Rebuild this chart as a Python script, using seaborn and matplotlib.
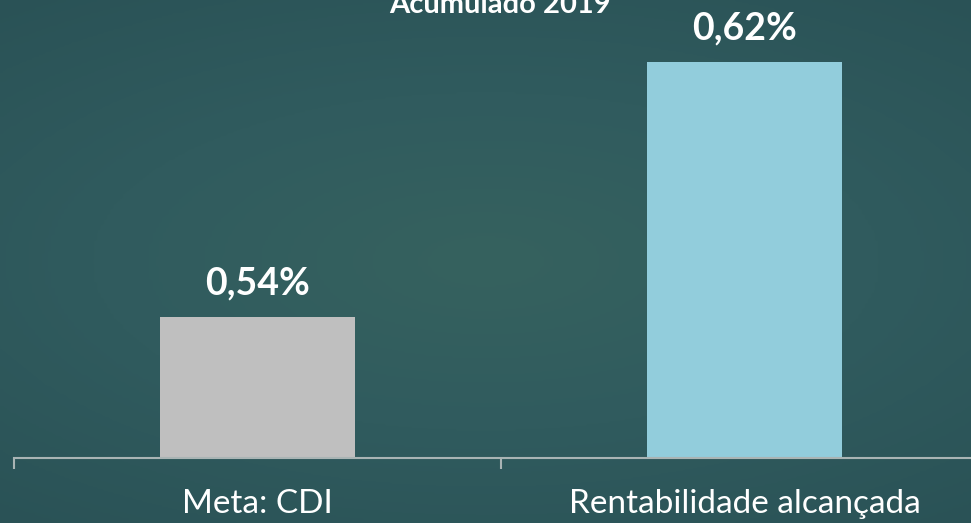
import numpy as np
import pandas as pd
import seaborn as sns
import matplotlib.pyplot as plt

categorias = ["Meta: CDI", "Rentabilidade alcançada"]
valores = [0.54, 0.62]
rotulos = ["0,54%", "0,62%"]
cores = ["#bfbfbf", "#92cddc"]
titulo = "Acumulado 2019"


def main():
    sns.set_style("white")
    plt.rcParams['font.family'] = ['Lato', 'DejaVu Sans']

    df = pd.DataFrame({"categoria": categorias, "valor": valores})

    fig = plt.figure(figsize=(9.71, 5.23), dpi=100)
    fig.patch.set_facecolor("#2f5a5d")

    # chalkboard-ish background: very soft gradient
    bg = fig.add_axes([0, 0, 1, 1])
    yy, xx = np.mgrid[-1:1:200j, -1:1:300j]
    grad = np.sqrt((xx * 0.8) ** 2 + (yy * 1.0) ** 2)
    bg.imshow(grad, cmap=sns.blend_palette(["#36625f", "#305b5e", "#2a5256"], as_cmap=True),
              aspect="auto", extent=[0, 1, 0, 1], vmin=0, vmax=1.3)
    bg.axis("off")

    ax = fig.add_axes([14 / 971, 1 - 458 / 523, 974 / 971, 458 / 523])
    ax.set_facecolor("none")
    sns.barplot(data=df, x="categoria", y="valor", hue="categoria", palette=cores,
                width=0.4, legend=False, ax=ax, saturation=1, linewidth=0, edgecolor="none")

    ax.set_ylim(0.4958, 0.4958 + 458 / 3187.5)
    ax.set_xlim(-0.5, 1.5)

    for i, (v, txt) in enumerate(zip(valores, rotulos)):
        ax.annotate(txt, (i, v), xytext=(0, 12), textcoords="offset points",
                    ha="center", va="bottom", color="white", fontsize=27, fontweight="bold")

    for s in ["top", "left", "right"]:
        ax.spines[s].set_visible(False)
    ax.spines["bottom"].set_color("#a9b4b4")
    ax.spines["bottom"].set_linewidth(1.5)

    ax.set_yticks([])
    ax.set_xlabel("")
    ax.set_ylabel("")
    ax.tick_params(axis="x", which="major", length=0, pad=22, labelsize=24, labelcolor="white")
    ax.set_xticks([-0.5, 0.5, 1.5], minor=True)
    ax.tick_params(axis="x", which="minor", bottom=True, length=8, width=1.5,
                   color="#a9b4b4", direction="out")

    fig.text(0.515, 1 - 13 / 523, titulo, ha="center", va="baseline", color="white",
             fontsize=21, fontweight="bold")

    fig.savefig("out.png", dpi=100, facecolor=fig.get_facecolor())


if __name__ == "__main__":
    main()
